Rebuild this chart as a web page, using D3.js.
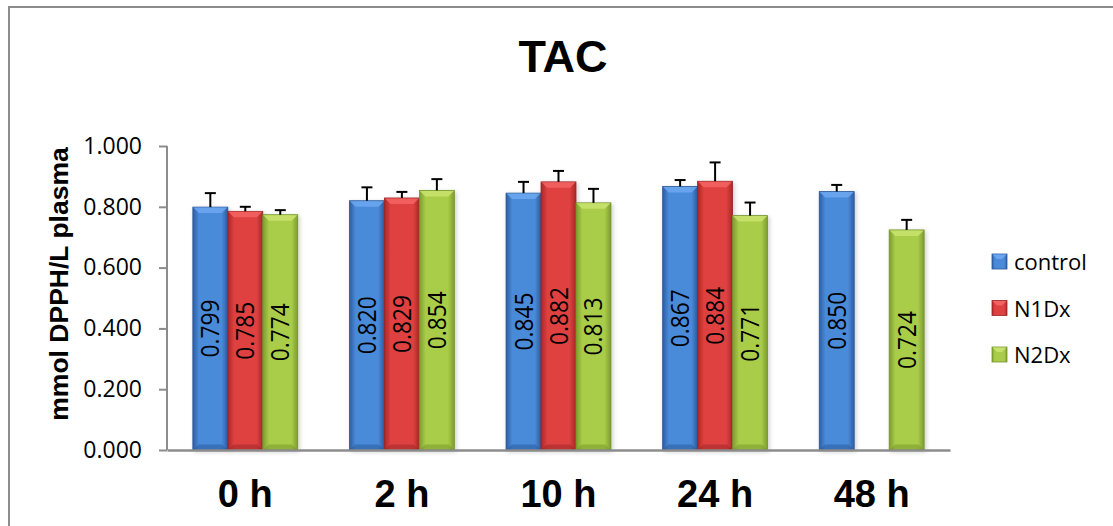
<!DOCTYPE html>
<html><head><meta charset="utf-8">
<script src="https://cdn.jsdelivr.net/npm/d3@7/dist/d3.min.js"></script>
<style>html,body{margin:0;padding:0;background:#fff;}svg{display:block;}</style>
</head><body>
<svg id="chart" width="1113" height="526"></svg>
<script>
const categories = ["0 h", "2 h", "10 h", "24 h", "48 h"];
const seriesNames = ["control", "N1Dx", "N2Dx"];
const controlValues = [0.799, 0.820, 0.845, 0.867, 0.850];
const n1dxValues = [0.785, 0.829, 0.882, 0.884, null];
const n2dxValues = [0.774, 0.854, 0.813, 0.771, 0.724];
const controlErrors = [0.046, 0.044, 0.037, 0.021, 0.022];
const n1dxErrors = [0.015, 0.020, 0.036, 0.062, null];
const n2dxErrors = [0.015, 0.037, 0.046, 0.043, 0.033];
const yTicks = [0, 0.2, 0.4, 0.6, 0.8, 1.0];
const titleText = "TAC";
const yTitle = "mmol DPPH/L plasma";

(function () {
const palette = {
  control: {mid: "#4a8ad9", edge: "#2c5da3", top: "#6aa6ee", bottom: "#2a5898"},
  N1Dx: {mid: "#df4040", edge: "#a82828", top: "#f26262", bottom: "#9c2525"},
  N2Dx: {mid: "#a9cc4a", edge: "#7d9c2c", top: "#c6e26c", bottom: "#76942a"}
};

const valuesBySeries = [controlValues, n1dxValues, n2dxValues];
const errorsBySeries = [controlErrors, n1dxErrors, n2dxErrors];
const rows = [];
categories.forEach((c, i) => {
  seriesNames.forEach((s, j) => {
    if (valuesBySeries[j][i] != null) rows.push({cat: c, series: s, value: valuesBySeries[j][i], err: errorsBySeries[j][i]});
  });
});

const svg = d3.select("#chart");
const defs = svg.append("defs");
seriesNames.forEach(s => {
  const g = defs.append("linearGradient").attr("id", "grad-" + s).attr("x1", "0").attr("x2", "1").attr("y1", "0").attr("y2", "0");
  g.append("stop").attr("offset", "0").attr("stop-color", palette[s].edge);
  g.append("stop").attr("offset", "0.18").attr("stop-color", palette[s].mid);
  g.append("stop").attr("offset", "0.82").attr("stop-color", palette[s].mid);
  g.append("stop").attr("offset", "1").attr("stop-color", palette[s].edge);
});
const shadow = defs.append("filter").attr("id", "shadow").attr("x", "-20%").attr("y", "-5%").attr("width", "140%").attr("height", "115%");
shadow.append("feDropShadow").attr("dx", 1.5).attr("dy", 1.5).attr("stdDeviation", 2).attr("flood-color", "#000").attr("flood-opacity", 0.2);

// outer frame
svg.append("path").attr("d", "M9,526 L9,7 L1113,7").attr("fill", "none").attr("stroke", "#8c8c8c").attr("stroke-width", 2);

const pLeft = 167, pRight = 950, pTop = 146, pBottom = 450;
const y = d3.scaleLinear().domain([0, 1]).range([pBottom, pTop]);
const x0 = d3.scaleBand().domain(categories).range([pLeft, pRight]).paddingInner(0.33).paddingOuter(0.165);
const x1 = d3.scaleBand().domain(seriesNames).range([0, x0.bandwidth()]);

// title
svg.append("text").attr("x", 563).attr("y", 72).attr("text-anchor", "middle")
  .attr("font-family", "Liberation Sans, Arial, sans-serif").attr("font-weight", "bold").attr("font-size", 45).text(titleText);

// y axis
const yAxis = d3.axisLeft(y).tickValues(yTicks).tickFormat(d3.format(".3f")).tickSize(8).tickPadding(17);
const ya = svg.append("g").attr("transform", `translate(${pLeft},0)`).call(yAxis);
ya.select(".domain").attr("stroke", "#8c8c8c").attr("stroke-width", 2).attr("d", `M0,${pTop}V${pBottom}`);
ya.selectAll(".tick line").attr("stroke", "#8c8c8c").attr("stroke-width", 2);
ya.selectAll(".tick text").attr("font-family", "Open Sans, sans-serif").attr("font-size", 23).attr("fill", "#000");

svg.append("text").attr("transform", `translate(68,284) rotate(-90)`).attr("text-anchor", "middle")
  .attr("font-family", "Liberation Sans, Arial, sans-serif").attr("font-weight", "bold").attr("font-size", 26.5).text(yTitle);

// bars
const bw = x1.bandwidth();
const bars = svg.append("g").selectAll("g.bar").data(rows).join("g").attr("class", "bar")
  .attr("transform", d => `translate(${x0(d.cat) + x1(d.series)},0)`);
bars.append("rect").attr("x", 0).attr("y", d => y(d.value)).attr("width", bw).attr("height", d => pBottom - y(d.value))
  .attr("fill", d => `url(#grad-${d.series})`).attr("stroke", d => palette[d.series].bottom).attr("stroke-width", 0.8)
  .attr("filter", "url(#shadow)");
bars.append("path").attr("d", d => {
  const t = y(d.value), h = 6;
  return `M0.5,${t + 0.5}L${bw - 0.5},${t + 0.5}L${bw - 6},${t + h}L6,${t + h}Z`;
}).attr("fill", d => palette[d.series].top).attr("opacity", 0.9);
bars.append("path").attr("d", d => {
  const b = pBottom - 0.5, h = 5;
  return `M0.5,${b}L${bw - 0.5},${b}L${bw - 6},${b - h}L6,${b - h}Z`;
}).attr("fill", d => palette[d.series].bottom).attr("opacity", 0.5);

// error bars
const eb = svg.append("g").selectAll("g.err").data(rows).join("g").attr("class", "err")
  .attr("stroke", "#000").attr("stroke-width", 2);
eb.append("line").attr("x1", d => x0(d.cat) + x1(d.series) + bw / 2).attr("x2", d => x0(d.cat) + x1(d.series) + bw / 2)
  .attr("y1", d => y(d.value)).attr("y2", d => y(d.value + d.err));
eb.append("line").attr("x1", d => x0(d.cat) + x1(d.series) + bw / 2 - 5.5).attr("x2", d => x0(d.cat) + x1(d.series) + bw / 2 + 5.5)
  .attr("y1", d => y(d.value + d.err)).attr("y2", d => y(d.value + d.err));

// value labels
svg.append("g").selectAll("text").data(rows).join("text")
  .attr("transform", d => `translate(${x0(d.cat) + x1(d.series) + bw / 2 + 9},${(y(d.value) + pBottom) / 2}) rotate(-90)`)
  .attr("text-anchor", "middle")
  .attr("font-family", "Open Sans, sans-serif").attr("font-size", 26)
  .attr("textLength", 58).attr("lengthAdjust", "spacingAndGlyphs")
  .text(d => d3.format(".3f")(d.value));

// baseline x axis
const xAxis = d3.axisBottom(x0).tickSize(0).tickPadding(30);
const xa = svg.append("g").attr("transform", `translate(0,${pBottom})`).call(xAxis);
xa.select(".domain").attr("stroke", "#8c8c8c").attr("stroke-width", 2.5);
xa.selectAll(".tick text").attr("font-family", "Liberation Sans, Arial, sans-serif").attr("font-weight", "bold")
  .attr("font-size", 38).attr("fill", "#000");

// legend
const lg = svg.append("g").selectAll("g").data(seriesNames).join("g")
  .attr("transform", (d, i) => `translate(992,${262 + i * 46.5})`);
lg.append("rect").attr("x", 0).attr("y", -8).attr("width", 15).attr("height", 15)
  .attr("fill", d => `url(#grad-${d})`).attr("stroke", d => palette[d].bottom).attr("stroke-width", 0.8);
lg.append("path").attr("d", "M0.5,-7.5L14.5,-7.5L10,-3L5,-3Z").attr("fill", d => palette[d].top);
lg.append("text").attr("x", 22).attr("y", 8).attr("font-family", "Open Sans, sans-serif").attr("font-size", 22).text(d => d);
})();
</script>
</body></html>
